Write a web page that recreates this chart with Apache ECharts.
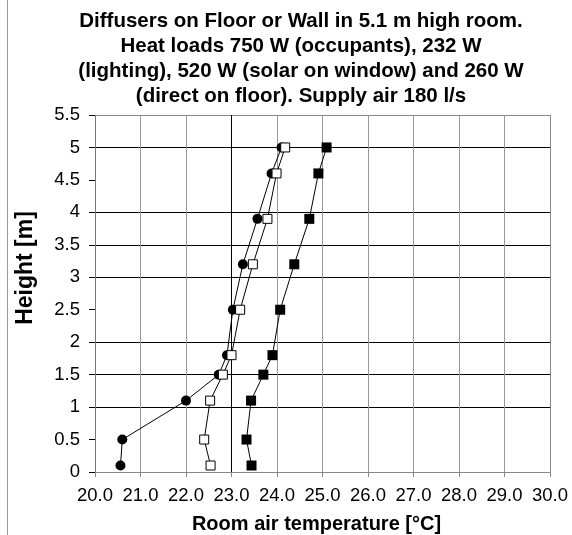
<!DOCTYPE html>
<html>
<head>
<meta charset="utf-8">
<title>Diffusers on Floor or Wall</title>
<script src="https://cdn.jsdelivr.net/npm/echarts@6/dist/echarts.min.js"></script>
<style>
html, body { margin: 0; padding: 0; background: #fff; }
#main { width: 572px; height: 535px; }
</style>
</head>
<body>
<div id="main"></div>
<script>
// measured heights [m] and room air temperatures [°C]
const heights = [0.1, 0.5, 1.1, 1.5, 1.8, 2.5, 3.2, 3.9, 4.6, 5.0];
const tempCircle = [20.56, 20.6, 22.0, 22.72, 22.9, 23.03, 23.25, 23.57, 23.88, 24.1];
const tempOpenSquare = [22.54, 22.4, 22.53, 22.81, 23.0, 23.19, 23.47, 23.79, 23.99, 24.18];
const tempFilledSquare = [23.44, 23.33, 23.43, 23.7, 23.9, 24.07, 24.38, 24.71, 24.91, 25.09];

const xMin = 20, xMax = 30, xStep = 1;
const yMin = 0, yMax = 5.5, yStep = 0.5;

const font = "'Liberation Sans', Arial, sans-serif";

function pairs(temps) {
	return temps.map((t, i) => [t, heights[i]]);
}

// gridline colours in tick order (some rows have no line in the original)
const hLineColors = ["#888", "transparent", "#000", "#000", "#000", "transparent",
	"#000", "#000", "#000", "transparent", "#000", "#888"];
const vLineColors = ["#777", "#999", "#999", "#000", "#999", "#999",
	"#999", "#999", "#999", "#999", "#888"];

var myChart = echarts.init(document.getElementById("main"));

var option = {
	animation: false,
	backgroundColor: "#fff",
	title: {
		text: "Diffusers on Floor or Wall in 5.1 m high room.\nHeat loads 750 W (occupants), 232 W\n(lighting), 520 W (solar on window) and 260 W\n(direct on floor). Supply air 180 l/s",
		left: 301,
		top: 9,
		padding: 0,
		textAlign: "center",
		textStyle: {
			fontFamily: font,
			fontSize: 20.5,
			fontWeight: "bold",
			color: "#000",
			lineHeight: 25
		}
	},
	graphic: [{
		type: "line",
		shape: { x1: 7.5, y1: 0, x2: 7.5, y2: 535 },
		style: { stroke: "#999", lineWidth: 1 }
	}],
	grid: {
		left: 95,
		right: 22,
		top: 115,
		bottom: 63,
		outerBoundsMode: "none",
		show: false
	},
	xAxis: {
		type: "value",
		min: xMin,
		max: xMax,
		interval: xStep,
		name: "Room air temperature [°C]",
		nameLocation: "middle",
		nameGap: 42,
		nameTextStyle: {
			fontFamily: font,
			fontSize: 20,
			fontWeight: "bold",
			color: "#000",
			padding: [0, 12, 0, 0]
		},
		axisLine: { show: true, lineStyle: { color: "#888", width: 1 } },
		axisTick: { show: true, length: 5, lineStyle: { color: "#888" } },
		axisLabel: {
			fontFamily: font,
			fontSize: 18.5,
			color: "#000",
			margin: 14,
			formatter: (v) => v.toFixed(1)
		},
		splitLine: { show: true, lineStyle: { color: vLineColors, width: 1 } }
	},
	yAxis: {
		type: "value",
		min: yMin,
		max: yMax,
		interval: yStep,
		name: "Height [m]",
		nameLocation: "middle",
		nameGap: 58,
		nameTextStyle: {
			fontFamily: font,
			fontSize: 23,
			fontWeight: "bold",
			color: "#000",
			padding: [0, 0, 0, 51]
		},
		axisLine: { show: false },
		axisTick: { show: true, length: 6, lineStyle: { color: "#000" } },
		axisLabel: {
			fontFamily: font,
			fontSize: 18.5,
			color: "#000",
			margin: 15
		},
		splitLine: { show: true, lineStyle: { color: hLineColors, width: 1 } }
	},
	series: [
		{
			name: "circle",
			type: "line",
			data: pairs(tempCircle),
			symbol: "circle",
			symbolSize: 10,
			lineStyle: { color: "#000", width: 1 },
			itemStyle: { color: "#000", borderColor: "#000", borderWidth: 0 }
		},
		{
			name: "open square",
			type: "line",
			data: pairs(tempOpenSquare),
			symbol: "rect",
			symbolSize: 9,
			lineStyle: { color: "#000", width: 1 },
			itemStyle: { color: "#fff", borderColor: "#000", borderWidth: 1 }
		},
		{
			name: "filled square",
			type: "line",
			data: pairs(tempFilledSquare),
			symbol: "rect",
			symbolSize: 10,
			lineStyle: { color: "#000", width: 1 },
			itemStyle: { color: "#000", borderColor: "#000", borderWidth: 0 }
		}
	]
};

myChart.setOption(option);
</script>
</body>
</html>
